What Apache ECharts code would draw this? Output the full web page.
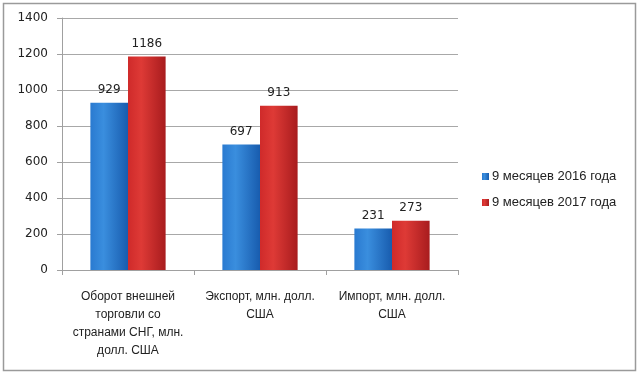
<!DOCTYPE html>
<html>
<head>
<meta charset="utf-8">
<script src="https://cdn.jsdelivr.net/npm/echarts@6/dist/echarts.min.js"></script>
<style>
html,body{margin:0;padding:0;background:#fff;}
#c{width:640px;height:374px;}
</style>
</head>
<body>
<div id="c"></div>
<script>
const categories = [
  "Оборот внешней\nторговли со\nстранами СНГ, млн.\nдолл. США",
  "Экспорт, млн. долл.\nСША",
  "Импорт, млн. долл.\nСША"
];
const seriesNames = ["9 месяцев 2016 года", "9 месяцев 2017 года"];
const values2016 = [929, 697, 231];
const values2017 = [1186, 913, 273];
const yTicks = [0, 200, 400, 600, 800, 1000, 1200, 1400];

const chart = echarts.init(document.getElementById('c'));
const font = 'Liberation Sans';
const blue = new echarts.graphic.LinearGradient(0, 0, 1, 0, [
  {offset: 0, color: '#2a7ad0'},
  {offset: 0.35, color: '#3a8ede'},
  {offset: 1, color: '#185cae'}
]);
const red = new echarts.graphic.LinearGradient(0, 0, 1, 0, [
  {offset: 0, color: '#cf2a2a'},
  {offset: 0.35, color: '#de3a36'},
  {offset: 1, color: '#a81c1e'}
]);
chart.setOption({
  animation: false,
  backgroundColor: '#fff',
  graphic: [{
    type: 'rect',
    shape: {x: 3.5, y: 3.5, width: 632, height: 367},
    style: {fill: 'none', stroke: '#9a9a9a', lineWidth: 1.5},
    silent: true
  }],
  grid: {left: 62, right: 182, top: 18, bottom: 104, containLabel: false},
  legend: {
    orient: 'vertical',
    left: 477, top: 165,
    itemWidth: 7, itemHeight: 7, itemGap: 13,
    icon: 'rect',
    textStyle: {fontFamily: font, fontSize: 13, color: '#222', padding: [0,0,0,-2]},
    data: seriesNames
  },
  xAxis: {
    type: 'category',
    data: categories,
    axisLine: {lineStyle: {color: '#a0a0a0'}},
    axisTick: {show: true, length: 5, lineStyle: {color: '#a0a0a0'}},
    axisLabel: {interval: 0, fontFamily: font, fontSize: 12, color: '#222', lineHeight: 18, margin: 18}
  },
  yAxis: {
    type: 'value',
    min: 0, max: 1400, interval: 200,
    axisLine: {show: true, lineStyle: {color: '#a0a0a0'}},
    axisTick: {show: true, length: 5, lineStyle: {color: '#a0a0a0'}},
    splitLine: {lineStyle: {color: '#a8a8a8'}},
    axisLabel: {fontFamily: 'DejaVu Sans', fontSize: 12, color: '#222', margin: 14,
      formatter: v => yTicks.includes(v) ? String(v) : ''}
  },
  series: [
    {
      name: seriesNames[0], type: 'bar', data: values2016,
      barGap: '0%', barCategoryGap: '43%',
      itemStyle: {color: blue},
      label: {show: true, position: 'top', distance: 7, fontFamily: 'DejaVu Sans', fontSize: 12, color: '#222'}
    },
    {
      name: seriesNames[1], type: 'bar', data: values2017,
      barGap: '0%', barCategoryGap: '43%',
      itemStyle: {color: red},
      label: {show: true, position: 'top', distance: 7, fontFamily: 'DejaVu Sans', fontSize: 12, color: '#222'}
    }
  ]
});
</script>
</body>
</html>
